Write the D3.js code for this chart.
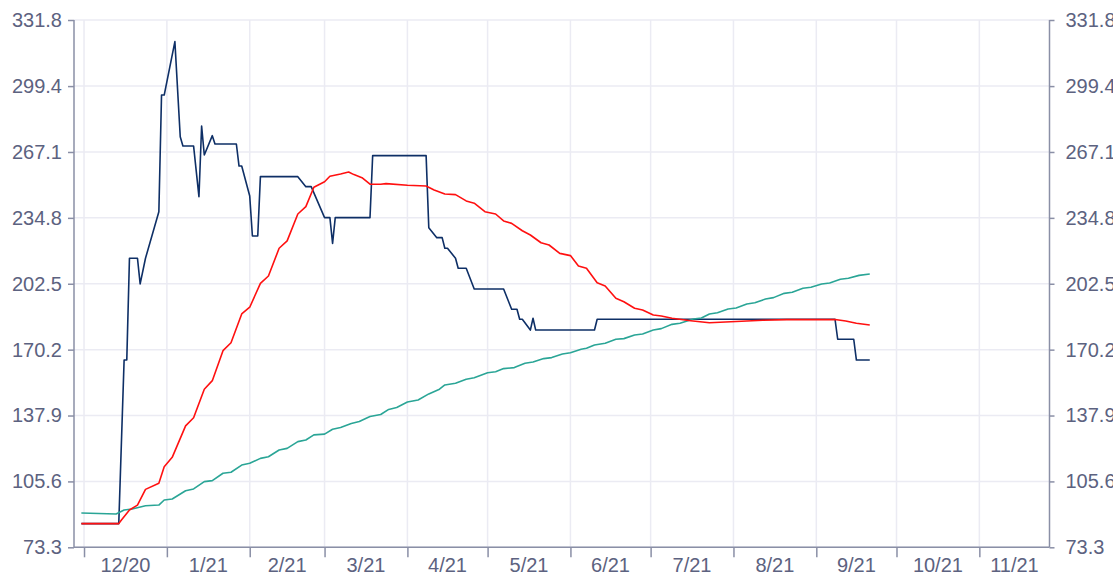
<!DOCTYPE html>
<html>
<head>
<meta charset="utf-8">
<script src="https://cdn.jsdelivr.net/npm/d3@7"></script>
<style>
  body { margin: 0; background: #ffffff; }
  text { font-family: "Liberation Sans", Arial, sans-serif; }
</style>
</head>
<body>
<svg id="chart" width="1113" height="576"></svg>
<script>
// ---------- data ----------
const yTickValues = [73.3, 105.6, 137.9, 170.2, 202.5, 234.8, 267.1, 299.4, 331.8];
const xDomainStrings = ["2020-11-27T06:00", "2021-11-27T06:00"];

const navySeries = [
  ["2020-11-30", 84.9], ["2020-12-14", 84.9], ["2020-12-16", 165.1], ["2020-12-17", 165.1],
  ["2020-12-18", 215.0], ["2020-12-21", 215.0], ["2020-12-22", 202.4], ["2020-12-24", 215.0],
  ["2020-12-29", 237.8], ["2020-12-30", 295.0], ["2020-12-31", 295.0], ["2021-01-04", 321.2],
  ["2021-01-06", 274.6], ["2021-01-07", 270.0], ["2021-01-11", 270.0], ["2021-01-13", 245.2],
  ["2021-01-14", 279.8], ["2021-01-15", 265.6], ["2021-01-18", 275.1], ["2021-01-19", 271.0],
  ["2021-01-27", 271.0], ["2021-01-28", 260.2], ["2021-01-29", 260.2], ["2021-02-01", 245.5],
  ["2021-02-02", 225.9], ["2021-02-04", 225.9], ["2021-02-05", 255.0], ["2021-02-19", 255.0],
  ["2021-02-22", 250.1], ["2021-02-24", 250.1], ["2021-03-01", 234.9], ["2021-03-03", 234.9],
  ["2021-03-04", 222.3], ["2021-03-05", 234.9], ["2021-03-18", 234.9], ["2021-03-19", 265.3],
  ["2021-04-08", 265.3], ["2021-04-09", 230.0], ["2021-04-12", 225.1], ["2021-04-14", 225.1],
  ["2021-04-15", 219.9], ["2021-04-16", 219.9], ["2021-04-19", 215.0], ["2021-04-20", 210.1],
  ["2021-04-23", 210.1], ["2021-04-26", 199.9], ["2021-05-07", 199.9], ["2021-05-10", 190.0],
  ["2021-05-12", 190.0], ["2021-05-13", 185.1], ["2021-05-14", 185.1], ["2021-05-17", 179.8],
  ["2021-05-18", 185.6], ["2021-05-19", 179.8], ["2021-06-10", 179.8], ["2021-06-11", 185.1],
  ["2021-09-08", 185.1], ["2021-09-09", 175.3], ["2021-09-15", 175.3], ["2021-09-16", 165.1],
  ["2021-09-21", 165.1]
];

const redSeries = [
  ["2020-11-30", 84.9], ["2020-12-14", 84.9], ["2020-12-15", 86.7], ["2020-12-18", 91.6],
  ["2020-12-21", 94.0], ["2020-12-24", 101.7], ["2020-12-29", 104.7], ["2020-12-31", 112.8],
  ["2021-01-03", 117.4], ["2021-01-08", 132.8], ["2021-01-11", 136.8], ["2021-01-15", 150.8],
  ["2021-01-18", 155.0], ["2021-01-22", 169.7], ["2021-01-25", 173.6], ["2021-01-29", 187.7],
  ["2021-02-01", 191.0], ["2021-02-05", 202.7], ["2021-02-08", 206.3], ["2021-02-12", 219.9],
  ["2021-02-15", 223.5], ["2021-02-19", 236.7], ["2021-02-22", 240.3], ["2021-02-25", 249.8],
  ["2021-03-01", 252.5], ["2021-03-03", 255.2], ["2021-03-07", 256.3], ["2021-03-10", 257.3],
  ["2021-03-12", 256.0], ["2021-03-15", 254.5], ["2021-03-18", 251.3], ["2021-03-22", 251.3],
  ["2021-03-24", 251.6], ["2021-04-01", 250.8], ["2021-04-08", 250.4], ["2021-04-11", 248.5],
  ["2021-04-15", 246.5], ["2021-04-19", 246.2], ["2021-04-23", 243.1], ["2021-04-26", 242.0],
  ["2021-04-30", 237.8], ["2021-05-04", 236.7], ["2021-05-07", 233.3], ["2021-05-10", 232.1],
  ["2021-05-14", 228.5], ["2021-05-17", 226.4], ["2021-05-21", 222.6], ["2021-05-24", 221.5],
  ["2021-05-28", 217.4], ["2021-06-01", 216.3], ["2021-06-04", 211.2], ["2021-06-07", 210.1],
  ["2021-06-11", 203.0], ["2021-06-14", 201.4], ["2021-06-18", 195.4], ["2021-06-21", 193.7],
  ["2021-06-25", 190.5], ["2021-06-28", 189.6], ["2021-07-02", 187.2], ["2021-07-05", 186.7],
  ["2021-07-09", 185.6], ["2021-07-16", 184.4], ["2021-07-23", 183.4], ["2021-07-31", 183.9],
  ["2021-08-12", 184.6], ["2021-08-21", 184.9], ["2021-09-08", 185.0], ["2021-09-12", 184.2],
  ["2021-09-16", 183.1], ["2021-09-21", 182.3]
];

const tealSeries = [
  ["2020-11-30", 90.1], ["2020-12-13", 89.6], ["2020-12-16", 91.6], ["2020-12-19", 92.1],
  ["2020-12-24", 93.7], ["2020-12-29", 94.0], ["2020-12-31", 96.5], ["2021-01-03", 97.0],
  ["2021-01-08", 101.0], ["2021-01-11", 101.9], ["2021-01-15", 105.5], ["2021-01-18", 106.0],
  ["2021-01-22", 109.6], ["2021-01-25", 110.1], ["2021-01-29", 113.6], ["2021-02-01", 114.5],
  ["2021-02-05", 116.9], ["2021-02-08", 117.7], ["2021-02-12", 121.0], ["2021-02-15", 121.8],
  ["2021-02-19", 125.1], ["2021-02-22", 125.9], ["2021-02-25", 128.4], ["2021-03-01", 128.8],
  ["2021-03-04", 131.2], ["2021-03-07", 132.0], ["2021-03-11", 134.0], ["2021-03-14", 135.0],
  ["2021-03-18", 137.4], ["2021-03-22", 138.4], ["2021-03-25", 140.9], ["2021-03-28", 141.8],
  ["2021-04-01", 144.5], ["2021-04-05", 145.5], ["2021-04-09", 148.5], ["2021-04-13", 150.8],
  ["2021-04-15", 152.9], ["2021-04-19", 153.7], ["2021-04-23", 155.7], ["2021-04-26", 156.4],
  ["2021-05-01", 158.9], ["2021-05-04", 159.4], ["2021-05-07", 160.9], ["2021-05-11", 161.4],
  ["2021-05-15", 163.5], ["2021-05-18", 164.1], ["2021-05-22", 165.8], ["2021-05-25", 166.3],
  ["2021-05-29", 168.1], ["2021-06-01", 168.7], ["2021-06-05", 170.4], ["2021-06-07", 170.9],
  ["2021-06-10", 172.5], ["2021-06-14", 173.3], ["2021-06-18", 175.3], ["2021-06-21", 175.6],
  ["2021-06-25", 177.4], ["2021-06-28", 177.9], ["2021-07-02", 179.8], ["2021-07-05", 180.5],
  ["2021-07-09", 182.6], ["2021-07-12", 183.1], ["2021-07-17", 185.2], ["2021-07-20", 185.7],
  ["2021-07-23", 187.7], ["2021-07-26", 188.3], ["2021-07-30", 190.1], ["2021-08-02", 190.6],
  ["2021-08-06", 192.6], ["2021-08-09", 193.2], ["2021-08-13", 195.0], ["2021-08-16", 195.7],
  ["2021-08-20", 197.8], ["2021-08-23", 198.3], ["2021-08-27", 200.3], ["2021-08-30", 200.8],
  ["2021-09-03", 202.4], ["2021-09-06", 202.9], ["2021-09-10", 204.7], ["2021-09-13", 205.2],
  ["2021-09-17", 206.6], ["2021-09-21", 207.3]
];

// ---------- layout ----------
const plotLeft = 74, plotRight = 1049.5, plotTop = 20, plotBottom = 547.3;
const axisColor = "#8a8fa6";
const labelColor = "#5c6280";
const gridColor = "#ebebf3";

const parseDay = d3.timeParse("%Y-%m-%d");
const parseDT = d3.timeParse("%Y-%m-%dT%H:%M");
const xDomain = xDomainStrings.map(parseDT);

const x = d3.scaleTime().domain(xDomain).range([plotLeft, plotRight]);
const y = d3.scaleLinear().domain([yTickValues[0], yTickValues[yTickValues.length - 1]]).range([plotBottom, plotTop]);

const svg = d3.select("#chart");

const monthStarts = d3.timeMonth.range(d3.timeMonth.ceil(xDomain[0]), xDomain[1]);

// grid
const grid = svg.append("g");
grid.selectAll("line.h").data(yTickValues).join("line")
  .attr("x1", plotLeft).attr("x2", plotRight)
  .attr("y1", d => y(d)).attr("y2", d => y(d))
  .attr("stroke", gridColor).attr("stroke-width", 1.5);
grid.selectAll("line.v").data(monthStarts).join("line")
  .attr("x1", d => x(d)).attr("x2", d => x(d))
  .attr("y1", plotTop).attr("y2", plotBottom)
  .attr("stroke", gridColor).attr("stroke-width", 1.5);

// lines
const line = d3.line()
  .x(d => x(parseDay(d[0])))
  .y(d => y(d[1]));

const drawSeries = (data, color) => svg.append("path")
  .datum(data)
  .attr("fill", "none")
  .attr("stroke", color)
  .attr("stroke-width", 1.6)
  .attr("stroke-linejoin", "round")
  .attr("d", line);

drawSeries(navySeries, "#0e2f66");
drawSeries(tealSeries, "#2aa596");
drawSeries(redSeries, "#ff1010");

// left axis
const leftAxis = d3.axisLeft(y).tickValues(yTickValues).tickSize(6).tickPadding(6)
  .tickFormat(d3.format(".1f"));
const gL = svg.append("g").attr("transform", `translate(${plotLeft},0)`).call(leftAxis);
// right axis
const rightAxis = d3.axisRight(y).tickValues(yTickValues).tickSize(5).tickPadding(11)
  .tickFormat(d3.format(".1f"));
const gR = svg.append("g").attr("transform", `translate(${plotRight},0)`).call(rightAxis);
// bottom axis (ticks only at month starts, labels centered in month spans)
const bottomAxis = d3.axisBottom(x).tickValues(monthStarts).tickSize(10).tickFormat("");
const gB = svg.append("g").attr("transform", `translate(0,${plotBottom})`).call(bottomAxis);

[gL, gR, gB].forEach(g => {
  g.select(".domain").attr("stroke", axisColor).attr("stroke-width", 1.5);
  g.selectAll(".tick line").attr("stroke", axisColor).attr("stroke-width", 1.5);
  g.selectAll(".tick text").attr("fill", labelColor)
    .style("font-size", "20px").style("font-family", "'Liberation Sans', Arial, sans-serif");
});
gB.select(".domain").attr("d", `M${plotLeft},0H${plotRight}`);
gL.select(".domain").attr("d", `M0,${plotTop}V${plotBottom}`);
gR.select(".domain").attr("d", `M0,${plotTop}V${plotBottom}`);

const fmt = d3.timeFormat("%-m/%y");
const spans = monthStarts.map(m => {
  const next = d3.timeMonth.offset(m, 1);
  const a = x(m), b = x(next < xDomain[1] ? next : xDomain[1]);
  return { m, cx: (a + b) / 2 };
});
svg.append("g").selectAll("text").data(spans).join("text")
  .attr("x", d => d.cx).attr("y", 572)
  .attr("text-anchor", "middle")
  .attr("fill", labelColor)
  .style("font-size", "20px")
  .text(d => fmt(d.m));
</script>
</body>
</html>
